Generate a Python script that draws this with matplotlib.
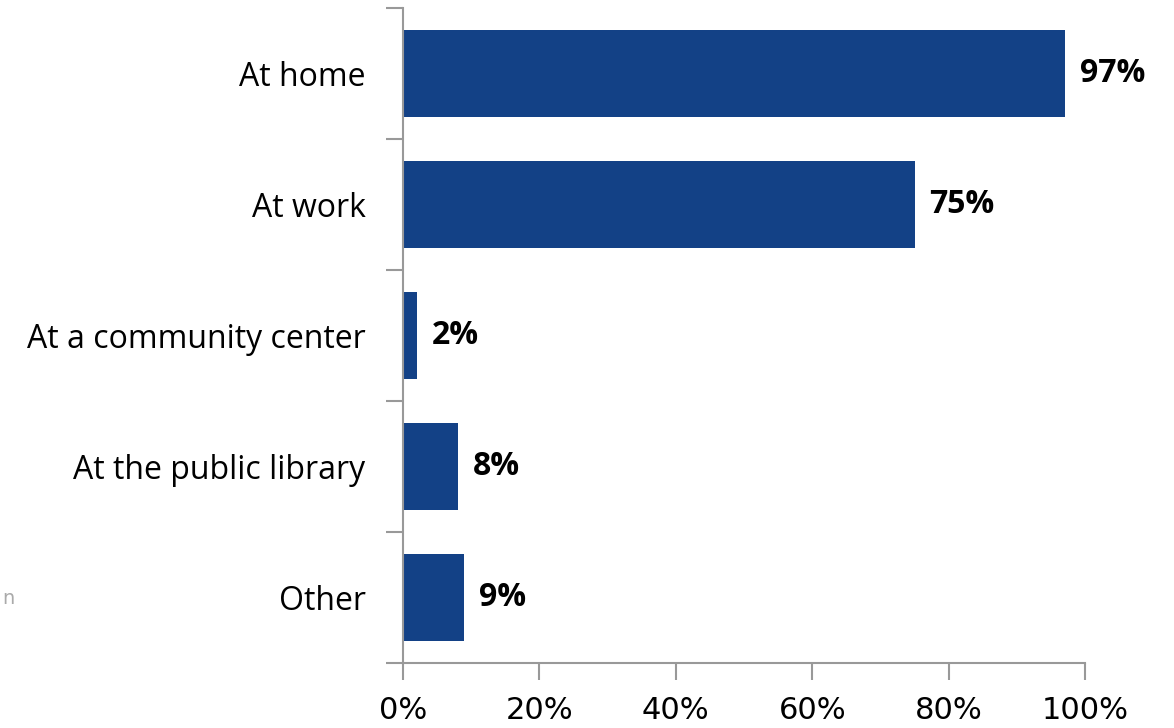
import matplotlib
matplotlib.use("Agg")
import matplotlib.pyplot as plt
from matplotlib.ticker import FixedLocator

categories = ["At home", "At work", "At a community center", "At the public library", "Other"]
values = [97, 75, 2, 8, 9]
xticks = [0, 20, 40, 60, 80, 100]
xtick_labels = ["0%", "20%", "40%", "60%", "80%", "100%"]

bar_color = "#134186"
axis_color = "#999999"

fig = plt.figure(figsize=(11.74, 7.28), dpi=100)
ax = fig.add_axes([0.3433, 0.0893, 0.9242 - 0.3433, 0.989 - 0.0893])

ypos = list(range(len(categories)))
ax.barh(ypos, values, height=0.66, color=bar_color)

# value labels
for y, v in zip(ypos, values):
    ax.text(v + 2.2, y, f"{v}%", va="center", ha="left", fontsize=23,
            fontweight="bold", family="Open Sans")

ax.set_ylim(len(categories) - 0.5, -0.5)
ax.set_xlim(0, 100)

# y ticks at category boundaries, labels centered
ax.yaxis.set_major_locator(FixedLocator([i - 0.5 for i in range(len(categories) + 1)]))
ax.yaxis.set_minor_locator(FixedLocator(ypos))
ax.set_yticklabels([])
ax.set_yticklabels(categories, minor=True, fontsize=23, family="Open Sans")
ax.tick_params(axis="y", which="major", length=12, width=1.5, color=axis_color, direction="out")
ax.tick_params(axis="y", which="minor", length=0, pad=27)

ax.set_xticks(xticks)
ax.set_xticklabels(xtick_labels, fontsize=22,
                   family=["Liberation Sans Narrow", "DejaVu Sans Condensed", "DejaVu Sans"])
ax.tick_params(axis="x", length=12, width=1.5, color=axis_color, direction="out", pad=12)

for side in ["top", "right"]:
    ax.spines[side].set_visible(False)
for side in ["left", "bottom"]:
    ax.spines[side].set_color(axis_color)
    ax.spines[side].set_linewidth(1.5)

fig.text(0.002, 0.178, "n", fontsize=14, color="#aaaaaa", va="center", ha="left")

fig.savefig("out.png", dpi=100)
